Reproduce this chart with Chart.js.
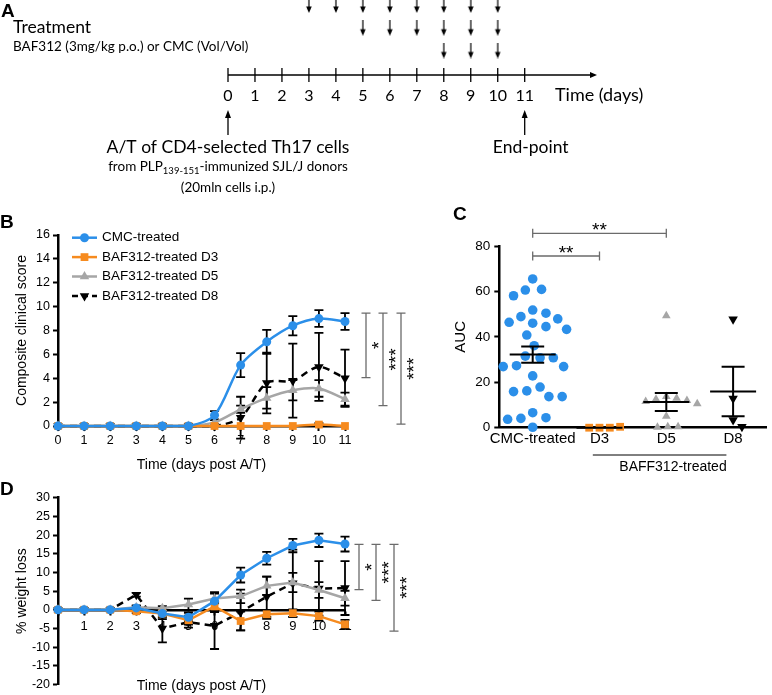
<!DOCTYPE html>
<html>
<head>
<meta charset="utf-8">
<script src="https://cdn.jsdelivr.net/npm/chart.js@4.4.0/dist/chart.umd.min.js"></script>
<style>
  body { margin: 0; background: #fff; }
  #wrap { position: relative; width: 772px; height: 695px; overflow: hidden; }
  canvas { position: absolute; }
</style>
</head>
<body>
<div id="wrap">
  <canvas id="chartA" width="772" height="200" style="left:0;top:0"></canvas>
  <canvas id="chartB" width="440" height="280" style="left:0;top:200px"></canvas>
  <canvas id="chartC" width="342" height="320" style="left:430px;top:200px"></canvas>
  <canvas id="chartD" width="440" height="215" style="left:0;top:480px"></canvas>
</div>
<script>
// Panel A: treatment timeline
const timelineDays = [0, 1, 2, 3, 4, 5, 6, 7, 8, 9, 10, 11];
const treatStart = [3, 5, 8];   // first dose of each treated group (D3, D5, D8)
const lastDose = 10;
const transferDay = 0;
const endDay = 11;

// Panels B and D
const days = [0, 1, 2, 3, 4, 5, 6, 7, 8, 9, 10, 11];
const groups = ["CMC-treated", "BAF312-treated D3", "BAF312-treated D5", "BAF312-treated D8"];

const scoreCMC = [0, 0, 0, 0, 0, 0, 0.9, 5.1, 7.05, 8.4, 9.0, 8.75];
const scoreD3  = [0, 0, 0, 0, 0, 0, 0, 0, 0, 0, 0.12, 0];
const scoreD5  = [0, 0, 0, 0, 0, 0, 0.3, 1.4, 2.35, 3.0, 3.15, 2.25];
const scoreD8  = [0, 0, 0, 0, 0, 0, 0, 0.7, 3.6, 3.8, 4.95, 4.0];
const scoreCMCErr = [0, 0, 0, 0, 0, 0, 0.35, 1.0, 1.0, 0.8, 0.7, 0.7];
const scoreD3Err  = [0, 0, 0, 0, 0, 0, 0, 0, 0, 0, 0.12, 0];
const scoreD5Err  = [0, 0, 0, 0, 0, 0, 0.2, 0.3, 0.9, 0.85, 0.7, 0.55];
const scoreD8Err  = [0, 0, 0, 0, 0, 0, 0, 1.75, 2.55, 3.1, 2.85, 2.4];

const weightCMC = [0, 0, 0, 0.5, -1.0, -2.0, 2.3, 9.3, 13.8, 17.2, 18.6, 17.6];
const weightD3  = [0, 0, 0, -0.4, -1.0, -2.8, 0.9, -3.0, -1.2, -0.9, -1.7, -3.9];
const weightD5  = [0, 0, 0, 0.7, 0.4, 1.4, 3.0, 3.6, 6.4, 7.3, 5.3, 3.1];
const weightD8  = [0, 0, 0, 4.0, -5.0, -3.3, -4.3, -0.6, 3.5, 7.1, 5.7, 5.8];
const weightCMCErr = [0, 0, 0, 0.5, 1.5, 1.2, 2.4, 2.0, 1.7, 1.8, 1.8, 2.0];
const weightD3Err  = [0, 0, 0, 0.5, 1.0, 1.2, 1.5, 2.5, 1.2, 1.0, 1.2, 1.2];
const weightD5Err  = [0, 0, 0, 0.5, 0.6, 1.6, 1.3, 1.8, 2.5, 2.6, 2.1, 2.0];
const weightD8Err  = [0, 0, 0, 0.5, 3.7, 1.5, 6.2, 4.9, 5.4, 9.0, 7.3, 7.2];

// significance brackets: [label, top value, bottom value]
const sigScore  = [["*", 9.45, 4.05], ["***", 9.45, 1.7], ["***", 9.45, 0.15]];
const sigWeight = [["*", 17.5, 5.4], ["***", 17.5, 2.5], ["***", 17.5, -5.7]];

// Panel C: AUC per mouse
const aucCategories = ["CMC-treated", "D3", "D5", "D8"];
const aucCMC = [65.5, 60.9, 60.6, 58.1, 51.8, 50.4, 48.9, 47.9, 46.4, 46.0, 44.5, 43.3, 40.8, 36.1, 31.5,
                30.8, 30.8, 27.3, 26.9, 26.9, 22.8, 17.9, 16.2, 15.9, 13.7, 13.7, 6.6, 4.4, 4.1, 3.7, 0.2];
const aucD3 = [0, 0, 0, 0.4];
const aucD5 = [49.3, 13.7, 13.0, 12.5, 12.0, 11.5, 10.5, 5.0, 0.4, 0.2, 0.4];
const aucD8 = [47.7, 12.9, 3.4, 0.4];
const aucMean = [32.2, 0, 11.3, 15.9];
const aucSem = [3.6, 0, 4.0, 10.9];
// [label, from category, to category, height]
const sigAUC = [["**", 0, 1, 75.6], ["**", 0, 2, 85.6]];

const COLORS = ["#2b8fe9", "#f68b1f", "#a6a6a6", "#000000"];
const MARKERS = [
  { pointStyle: "circle", radius: 4.5, rotation: 0 },
  { pointStyle: "rect", radius: 5.5, rotation: 0 },
  { pointStyle: "triangle", radius: 5.5, rotation: 0 },
  { pointStyle: "triangle", radius: 5.5, rotation: 180 }
];
const SANS = '"Liberation Sans", Arial, Helvetica, sans-serif';

Chart.defaults.font.family = SANS;
Chart.defaults.color = "#000";
Chart.defaults.plugins.legend.display = false;
Chart.defaults.plugins.tooltip.enabled = false;

function axisStyle(tickSize, pad) {
  return {
    border: { display: true, color: "#000", width: 2.5 },
    grid: { drawOnChartArea: false, drawTicks: true, tickLength: 5, tickWidth: 2, tickColor: "#000", color: "#000" },
    ticks: { color: "#000", font: { size: tickSize }, padding: pad }
  };
}

function lineSet(i, vals, tension) {
  return {
    label: groups[i],
    data: vals.map((v, k) => ({ x: days[k], y: v })),
    borderColor: COLORS[i],
    backgroundColor: COLORS[i],
    borderWidth: 2.5,
    borderDash: i === 3 ? [7, 5] : [],
    pointStyle: MARKERS[i].pointStyle,
    pointRadius: MARKERS[i].radius,
    pointRotation: MARKERS[i].rotation,
    pointBorderWidth: 0,
    tension: tension,
    clip: false
  };
}

function letter(id, ch, x, y) {
  return {
    id: id,
    afterDraw(chart) {
      const ctx = chart.ctx;
      ctx.save();
      ctx.fillStyle = "#000";
      ctx.font = "bold 19px " + SANS;
      ctx.textAlign = "left";
      ctx.textBaseline = "alphabetic";
      ctx.fillText(ch, x, y);
      ctx.restore();
    }
  };
}

// black SEM bars behind the lines
function errorBars(id, errs) {
  return {
    id: id,
    beforeDatasetsDraw(chart) {
      const { ctx, scales: { x, y } } = chart;
      ctx.save();
      ctx.strokeStyle = "#000";
      ctx.lineWidth = 1.8;
      errs.forEach((list, i) => {
        const pts = chart.data.datasets[i].data;
        list.forEach((e, k) => {
          if (!e) return;
          const px = x.getPixelForValue(pts[k].x);
          const t = y.getPixelForValue(pts[k].y + e);
          const b = y.getPixelForValue(pts[k].y - e);
          ctx.beginPath();
          ctx.moveTo(px, t); ctx.lineTo(px, b);
          ctx.moveTo(px - 4.5, t); ctx.lineTo(px + 4.5, t);
          ctx.moveTo(px - 4.5, b); ctx.lineTo(px + 4.5, b);
          ctx.stroke();
        });
      });
      ctx.restore();
    }
  };
}

// vertical significance brackets right of the plot
function sideBrackets(id, list, offsets) {
  return {
    id: id,
    afterDraw(chart) {
      const { ctx, chartArea, scales: { y } } = chart;
      ctx.save();
      list.forEach((s, i) => {
        const bx = chartArea.right + offsets[i];
        const t = y.getPixelForValue(s[1]);
        const b = y.getPixelForValue(s[2]);
        ctx.strokeStyle = "#6b6b6b";
        ctx.lineWidth = 1.3;
        ctx.beginPath();
        ctx.moveTo(bx, t); ctx.lineTo(bx, b);
        ctx.moveTo(bx - 4.5, t); ctx.lineTo(bx + 4.5, t);
        ctx.moveTo(bx - 4.5, b); ctx.lineTo(bx + 4.5, b);
        ctx.stroke();
        ctx.save();
        ctx.translate(bx + 14, (t + b) / 2);
        ctx.rotate(-Math.PI / 2);
        ctx.fillStyle = "#000";
        ctx.font = "19px " + SANS;
        ctx.textAlign = "center";
        ctx.textBaseline = "middle";
        ctx.fillText(s[0], 0, 0);
        ctx.restore();
      });
      ctx.restore();
    }
  };
}

// ---------- Panel A ----------
const arrowImg = document.createElement("canvas");
arrowImg.width = 10;
arrowImg.height = 16;
(function () {
  const g = arrowImg.getContext("2d");
  g.strokeStyle = "#000";
  g.fillStyle = "#000";
  g.lineWidth = 1.2;
  g.beginPath(); g.moveTo(5, 0); g.lineTo(5, 11); g.stroke();
  g.beginPath(); g.moveTo(2.2, 9.5); g.lineTo(7.8, 9.5); g.lineTo(5, 16); g.closePath(); g.fill();
})();

const doseData = [];
treatStart.forEach((s, row) => {
  timelineDays.filter(d => d >= s && d <= lastDose).forEach(d => doseData.push({ x: d, y: row }));
});

function upArrow(ctx, px, top, bottom) {
  ctx.beginPath(); ctx.moveTo(px, bottom); ctx.lineTo(px, top + 6); ctx.stroke();
  ctx.beginPath(); ctx.moveTo(px, top); ctx.lineTo(px - 3, top + 8); ctx.lineTo(px + 3, top + 8); ctx.closePath(); ctx.fill();
}

const timelinePlugin = {
  id: "timeline",
  afterDraw(chart) {
    const { ctx, scales: { x } } = chart;
    const lineY = 75;
    const x0 = x.getPixelForValue(timelineDays[0]);
    const xEnd = 597;
    ctx.save();
    ctx.strokeStyle = "#000";
    ctx.fillStyle = "#000";
    ctx.lineWidth = 1.3;
    ctx.beginPath(); ctx.moveTo(x0, lineY); ctx.lineTo(xEnd - 4, lineY); ctx.stroke();
    ctx.beginPath(); ctx.moveTo(xEnd, lineY); ctx.lineTo(xEnd - 7, lineY - 3); ctx.lineTo(xEnd - 7, lineY + 3); ctx.closePath(); ctx.fill();

    ctx.font = "16px Lato";
    ctx.textAlign = "center";
    ctx.textBaseline = "alphabetic";
    timelineDays.forEach(d => {
      const px = x.getPixelForValue(d);
      ctx.beginPath(); ctx.moveTo(px, lineY - 7); ctx.lineTo(px, lineY + 7); ctx.stroke();
      ctx.fillText(String(d), px, 101);
    });
    ctx.textAlign = "left";
    ctx.font = "18px Lato";
    ctx.fillText("Time (days)", 555, 101);

    const xT = x.getPixelForValue(transferDay);
    const xE = x.getPixelForValue(endDay);
    upArrow(ctx, xT, 110, 135);
    upArrow(ctx, xE, 110, 135);

    ctx.textAlign = "center";
    ctx.font = "17.5px Lato";
    ctx.fillText("A/T of CD4-selected Th17 cells", xT, 153);
    ctx.fillText("End-point", xE + 6, 153);

    // line with subscript
    ctx.textAlign = "left";
    const p1 = "from PLP", p2 = "139-151", p3 = "-immunized SJL/J donors";
    ctx.font = "13.5px Lato"; const w1 = ctx.measureText(p1).width, w3 = ctx.measureText(p3).width;
    ctx.font = "9.5px Lato"; const w2 = ctx.measureText(p2).width;
    let sx = xT - (w1 + w2 + w3) / 2;
    ctx.font = "13.5px Lato"; ctx.fillText(p1, sx, 171);
    ctx.font = "9.5px Lato"; ctx.fillText(p2, sx + w1, 174);
    ctx.font = "13.5px Lato"; ctx.fillText(p3, sx + w1 + w2, 171);
    ctx.textAlign = "center";
    ctx.fillText("(20mln cells i.p.)", xT, 192);

    ctx.textAlign = "left";
    ctx.font = "17.5px Lato";
    ctx.fillText("Treatment", 13, 33);
    ctx.font = "13.5px Lato";
    ctx.fillText("BAF312 (3mg/kg p.o.) or CMC (Vol/Vol)", 13, 51);
    ctx.restore();
  }
};

new Chart(document.getElementById("chartA"), {
  type: "scatter",
  data: {
    datasets: [{
      data: doseData,
      pointStyle: arrowImg,
      clip: false
    }]
  },
  options: {
    responsive: false,
    animation: false,
    devicePixelRatio: 1,
    layout: { padding: { left: 228, right: 247.3, top: 4.5, bottom: 149.5 } },
    scales: {
      x: { type: "linear", min: 0, max: 11, display: false },
      y: { type: "linear", min: 0, max: 2, reverse: true, display: false }
    }
  },
  plugins: [timelinePlugin, letter("letterA", "A", 1, 17)]
});

// ---------- Panel B ----------
const legendB = {
  id: "legendB",
  afterDraw(chart) {
    const ctx = chart.ctx;
    ctx.save();
    groups.forEach((g, i) => {
      const yy = 37.7 + i * 19.4;
      ctx.strokeStyle = COLORS[i];
      ctx.fillStyle = COLORS[i];
      ctx.lineWidth = 2.5;
      ctx.setLineDash(i === 3 ? [6, 4] : []);
      ctx.beginPath(); ctx.moveTo(72, yy); ctx.lineTo(97, yy); ctx.stroke();
      ctx.setLineDash([]);
      Chart.helpers.drawPoint(ctx, { pointStyle: MARKERS[i].pointStyle, radius: MARKERS[i].radius, rotation: MARKERS[i].rotation, borderWidth: 0 }, 84.5, yy);
      ctx.fillStyle = "#000";
      ctx.font = "13.5px " + SANS;
      ctx.textAlign = "left";
      ctx.textBaseline = "middle";
      ctx.fillText(g, 102, yy);
    });
    ctx.restore();
  }
};

const bx = axisStyle(12.5, 2);
const by = axisStyle(12.5, 3);
new Chart(document.getElementById("chartB"), {
  type: "line",
  data: {
    datasets: [scoreCMC, scoreD3, scoreD5, scoreD8].map((v, i) => lineSet(i, v, 0.3))
  },
  options: {
    responsive: false,
    animation: false,
    devicePixelRatio: 1,
    layout: { padding: { left: 10, right: 95, top: 35, bottom: 2 } },
    scales: {
      x: {
        type: "linear", min: 0, max: 11,
        afterFit: s => { s.height = 52; },
        border: bx.border, grid: bx.grid,
        ticks: Object.assign({}, bx.ticks, { stepSize: 1 }),
        title: { display: true, text: "Time (days post A/T)", font: { size: 14 }, color: "#000" }
      },
      y: {
        min: 0, max: 16,
        afterFit: s => { s.width = 48; },
        border: by.border, grid: by.grid,
        ticks: Object.assign({}, by.ticks, { stepSize: 2 }),
        title: { display: true, text: "Composite clinical score", font: { size: 14 }, color: "#000" }
      }
    }
  },
  plugins: [
    errorBars("errB", [scoreCMCErr, scoreD3Err, scoreD5Err, scoreD8Err]),
    sideBrackets("sigB", sigScore, [21, 38, 56]),
    legendB,
    letter("letterB", "B", 0, 28)
  ]
});

// ---------- Panel C ----------
// beeswarm spread so overlapping dots sit side by side
function swarm(vals, pxPerUnit, pxPerCat, diam) {
  const placed = [];
  return vals.map(v => {
    const yp = v * pxPerUnit;
    let best = 0;
    for (let k = 0; k < 80; k++) {
      const off = (k % 2 ? 1 : -1) * Math.ceil(k / 2) * 1.5;
      if (placed.every(p => (p.x - off) ** 2 + (p.y - yp) ** 2 >= diam * diam)) { best = off; break; }
    }
    placed.push({ x: best, y: yp });
    return best / pxPerCat;
  });
}

const aucGroups = [aucCMC, aucD3, aucD5, aucD8];
const aucDatasets = aucGroups.map((vals, i) => {
  const offs = swarm(vals, 2.27, 68, i === 0 ? 13 : 10.5);
  return {
    data: vals.map((v, k) => ({ x: i + offs[k], y: v })),
    backgroundColor: COLORS[i],
    pointStyle: MARKERS[i].pointStyle,
    pointRadius: i === 0 ? 4.8 : (i === 2 ? 5 : 5.5),
    pointRotation: MARKERS[i].rotation,
    pointBorderWidth: 0,
    clip: false
  };
});

const meanSem = {
  id: "meanSem",
  afterDatasetsDraw(chart) {
    const { ctx, scales: { x, y } } = chart;
    ctx.save();
    ctx.strokeStyle = "#000";
    ctx.lineWidth = 2;
    aucMean.forEach((m, i) => {
      const cx = x.getPixelForValue(i);
      const my = y.getPixelForValue(m);
      const t = y.getPixelForValue(m + aucSem[i]);
      const b = y.getPixelForValue(Math.max(0, m - aucSem[i]));
      ctx.beginPath();
      ctx.moveTo(cx - 23, my); ctx.lineTo(cx + 23, my);
      ctx.moveTo(cx, t); ctx.lineTo(cx, b);
      ctx.moveTo(cx - 11.5, t); ctx.lineTo(cx + 11.5, t);
      ctx.moveTo(cx - 11.5, b); ctx.lineTo(cx + 11.5, b);
      ctx.stroke();
    });
    ctx.restore();
  }
};

const annotC = {
  id: "annotC",
  afterDraw(chart) {
    const { ctx, scales: { x, y } } = chart;
    ctx.save();
    ctx.strokeStyle = "#6b6b6b";
    ctx.lineWidth = 1.3;
    ctx.fillStyle = "#000";
    ctx.textAlign = "center";
    ctx.textBaseline = "alphabetic";
    sigAUC.forEach(s => {
      const x1 = x.getPixelForValue(s[1]), x2 = x.getPixelForValue(s[2]);
      const yy = y.getPixelForValue(s[3]);
      ctx.beginPath();
      ctx.moveTo(x1, yy); ctx.lineTo(x2, yy);
      ctx.moveTo(x1, yy - 4.5); ctx.lineTo(x1, yy + 4.5);
      ctx.moveTo(x2, yy - 4.5); ctx.lineTo(x2, yy + 4.5);
      ctx.stroke();
      ctx.font = "19px " + SANS;
      ctx.fillText(s[0], (x1 + x2) / 2, yy + 3);
    });
    // group label under the BAF312 columns
    ctx.strokeStyle = "#000";
    ctx.lineWidth = 1;
    ctx.beginPath();
    ctx.moveTo(x.getPixelForValue(0.9), 255); ctx.lineTo(x.getPixelForValue(2.9), 255);
    ctx.stroke();
    ctx.font = "14px " + SANS;
    ctx.textBaseline = "middle";
    ctx.fillText("BAFF312-treated", x.getPixelForValue(2.1), 267);
    ctx.restore();
  }
};

const cy = axisStyle(13.5, 4);
new Chart(document.getElementById("chartC"), {
  type: "scatter",
  data: { datasets: aucDatasets },
  options: {
    responsive: false,
    animation: false,
    devicePixelRatio: 1,
    layout: { padding: { left: 18, right: 0.7, top: 46, bottom: 72.3 } },
    scales: {
      x: {
        type: "linear", min: -0.5, max: 3.5,
        afterFit: s => { s.height = 20; },
        afterBuildTicks: s => { s.ticks = aucCategories.map((c, i) => ({ value: i })); },
        border: { display: true, color: "#000", width: 2.5 },
        grid: { display: false, drawTicks: false },
        ticks: { color: "#000", font: { size: 15 }, padding: 2, autoSkip: false, maxRotation: 0,
                 callback: v => aucCategories[v] }
      },
      y: {
        min: 0, max: 80,
        afterFit: s => { s.width = 51.3; },
        border: cy.border, grid: cy.grid,
        ticks: Object.assign({}, cy.ticks, { stepSize: 20 }),
        title: { display: true, text: "AUC", font: { size: 15 }, color: "#000" }
      }
    }
  },
  plugins: [meanSem, annotC, letter("letterC", "C", 23, 20)]
});

// ---------- Panel D ----------
const titleD = {
  id: "titleD",
  afterDraw(chart) {
    const { ctx, chartArea } = chart;
    ctx.save();
    ctx.fillStyle = "#000";
    ctx.font = "14px " + SANS;
    ctx.textAlign = "center";
    ctx.textBaseline = "middle";
    ctx.fillText("Time (days post A/T)", (chartArea.left + chartArea.right) / 2, 206.5);
    ctx.restore();
  }
};

const dx = axisStyle(13, 5);
const dy = axisStyle(12.5, 3);
new Chart(document.getElementById("chartD"), {
  type: "line",
  data: {
    datasets: [weightCMC, weightD3, weightD5, weightD8].map((v, i) => lineSet(i, v, 0))
  },
  options: {
    responsive: false,
    animation: false,
    devicePixelRatio: 1,
    layout: { padding: { left: 10, right: 95, top: 17.7, bottom: 8.3 } },
    scales: {
      x: {
        type: "linear", min: 0, max: 11,
        position: { y: 0 },
        border: dx.border, grid: Object.assign({}, dx.grid, { tickLength: 4 }),
        ticks: Object.assign({}, dx.ticks, { stepSize: 1, callback: v => (v === 0 ? "" : String(v)) })
      },
      y: {
        min: -20, max: 30,
        afterFit: s => { s.width = 48; },
        border: dy.border, grid: dy.grid,
        ticks: Object.assign({}, dy.ticks, { stepSize: 5 }),
        title: { display: true, text: "% weight loss", font: { size: 14 }, color: "#000" }
      }
    }
  },
  plugins: [
    errorBars("errD", [weightCMCErr, weightD3Err, weightD5Err, weightD8Err]),
    sideBrackets("sigD", sigWeight, [14, 31, 49]),
    titleD,
    letter("letterD", "D", 0, 15)
  ]
});
</script>
</body>
</html>
